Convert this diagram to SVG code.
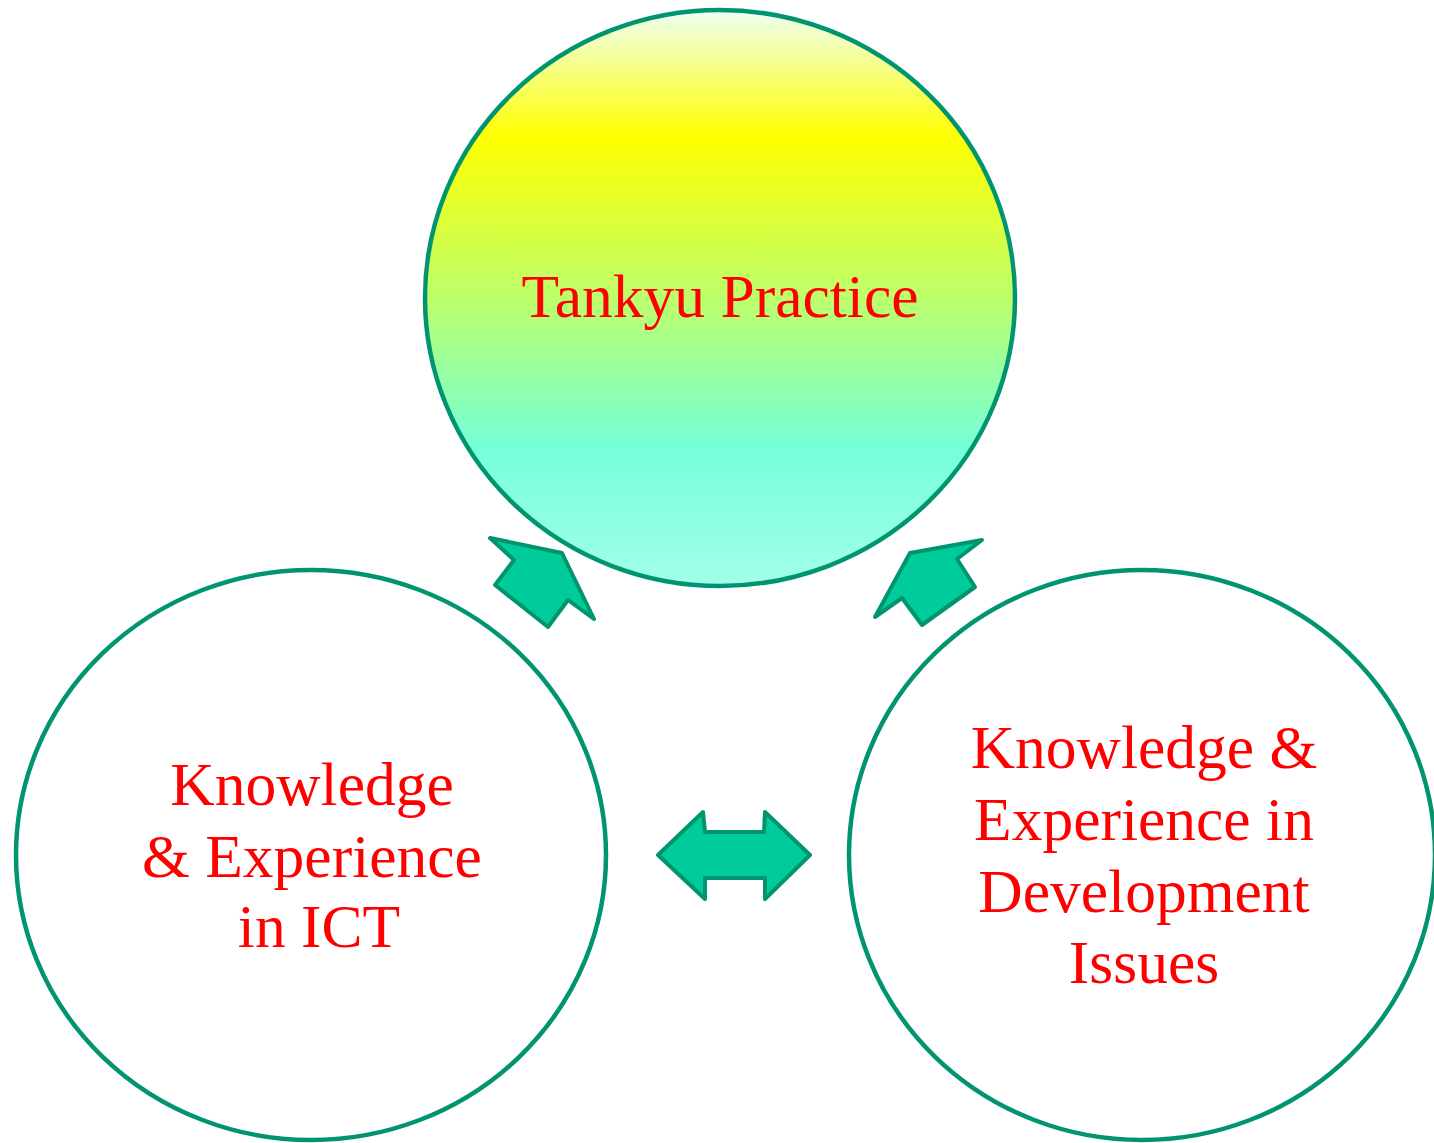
<svg xmlns="http://www.w3.org/2000/svg" width="1434" height="1143" viewBox="0 0 1434 1143">
  <defs>
    <linearGradient id="topGrad" x1="0" y1="0" x2="0" y2="1">
      <stop offset="0" stop-color="#eefff4"/>
      <stop offset="0.22" stop-color="#ffff00"/>
      <stop offset="0.5" stop-color="#bcff6c"/>
      <stop offset="0.76" stop-color="#76ffd8"/>
      <stop offset="1" stop-color="#a2ffe8"/>
    </linearGradient>
    <style>
      .circ { stroke: #009470; stroke-width: 4.5; }
      .arrow { fill: #00cc99; stroke: #009470; stroke-width: 4; stroke-linejoin: round; }
      .lbl { font-family: "Liberation Serif", "DejaVu Serif", serif; font-size: 61.5px; fill: #ff0000; text-anchor: middle; }
    </style>
  </defs>
  <rect width="1434" height="1143" fill="#ffffff"/>
  <g id="node-tankyu">
    <ellipse class="circ" cx="720" cy="298" rx="295" ry="288" fill="url(#topGrad)"/>
    <text class="lbl" x="720" y="317">Tankyu Practice</text>
  </g>
  <g id="node-ict">
    <ellipse class="circ" cx="311" cy="855" rx="295" ry="285" fill="#ffffff"/>
    <text class="lbl" x="312" y="805">Knowledge</text>
    <text class="lbl" x="312" y="877">&amp; Experience</text>
    <text class="lbl" x="319" y="947">in ICT</text>
  </g>
  <g id="node-dev">
    <ellipse class="circ" cx="1142" cy="855" rx="293" ry="285" fill="#ffffff"/>
    <text class="lbl" x="1144" y="768">Knowledge &amp;</text>
    <text class="lbl" x="1144" y="840">Experience in</text>
    <text class="lbl" x="1144" y="912">Development</text>
    <text class="lbl" x="1144" y="983">Issues</text>
  </g>
  <g id="connectors">
    <polygon class="arrow" points="490,538 562,553 594,619 568,600 548,627 495,585 514,560"/>
    <polygon class="arrow" points="982,540 910,553 875,617 902,598 922,625 975,587 957,559"/>
    <polygon class="arrow" points="658,855 703,812 705,832 764,832 765,812 810,855 765,899 765,878 705,878 705,899"/>
  </g>
</svg>
